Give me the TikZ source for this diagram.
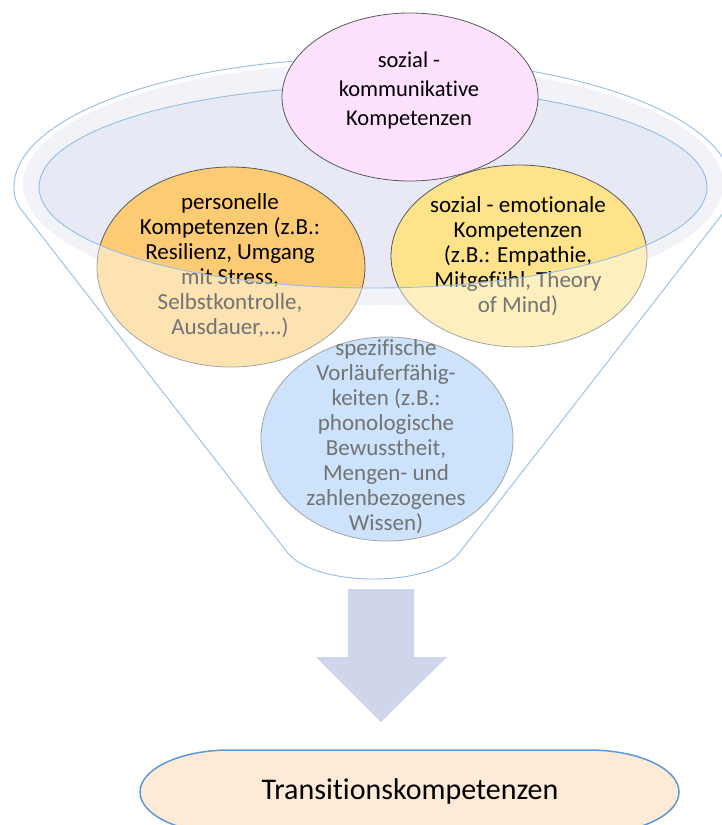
\documentclass[tikz,border=0pt]{standalone}
\usepackage{fontspec}
\setmainfont{Carlito}[Ligatures=CommonOff]
\definecolor{trichterlinie}{HTML}{95BDE4}
\definecolor{rinne}{HTML}{E7EAF5}
\definecolor{kreisrand}{HTML}{5A5A5A}
\definecolor{rosa}{HTML}{FEE1FE}
\definecolor{orange1}{HTML}{FDCB73}
\definecolor{gelb}{HTML}{FEE38B}
\definecolor{blau}{HTML}{A4CDFA}
\definecolor{pfeilfarbe}{HTML}{CFD5EA}
\definecolor{zielrand}{HTML}{5B9BD5}
\definecolor{zielfarbe}{HTML}{FDEBD8}

\begin{document}
\begin{tikzpicture}[x=1pt,y=-1pt]
                \tikzstyle{every node}+=[inner sep=0pt, align=center]
                \tikzstyle{kreis}=[draw=kreisrand, line width=0.8pt]
                \tikzstyle{trichter}=[draw=trichterlinie, line width=0.9pt]
                \tikzstyle{txt}=[font=\fontsize{23}{25}\selectfont]
                \useasboundingbox (0,0) rectangle (721,825);
                \fill [rinne] (373,184) ellipse [x radius=350, y radius=121];
                \draw [kreis, fill=orange1] (231,267) ellipse [x radius=134, y radius=100];
                \draw (230,266) node [txt] (pers) {personelle\\Kompetenzen (z.B.:\\Resilienz, Umgang\\mit Stress,\\Selbstkontrolle,\\Ausdauer,...)};
                \draw [kreis, fill=gelb] (519,256) ellipse [x radius=128, y radius=91];
                \draw (518,256) node [txt] (emo) {sozial - emotionale\\Kompetenzen\\(z.B.: Empathie,\\Mitgefühl, Theory\\of Mind)};
                \draw [kreis, fill=blau] (387,439) ellipse [x radius=126, y radius=102];
                \draw (386,437) node [txt] (vorl) {spezifische\\Vorläuferfähig-\\keiten (z.B.:\\phonologische\\Bewusstheit,\\Mengen- und\\zahlenbezogenes\\Wissen)};
                \fill [white, opacity=0.45, even odd rule] (14,187) arc [start angle=180, end angle=360, x radius=359, y radius=129] .. controls (732,197) and (730,202) .. (727,208) -- (460,552) .. controls (432,588) and (315,588) .. (287,552) -- (20,208) .. controls (16,202) and (14,197) .. (14,187) -- cycle (373,187) ellipse [x radius=334, y radius=101];
                \draw [trichter] (14,187) arc [start angle=180, end angle=360, x radius=359, y radius=129] .. controls (732,197) and (730,202) .. (727,208) -- (460,552) .. controls (432,588) and (315,588) .. (287,552) -- (20,208) .. controls (16,202) and (14,197) .. (14,187) -- cycle;
                \draw [trichter] (373,187) ellipse [x radius=334, y radius=101];
                \draw [kreis, fill=rosa] (410,97) ellipse [x radius=128, y radius=84];
                \draw (409,90) node [font=\fontsize{22.5}{29}\selectfont] (sozkom) {sozial -\\kommunikative\\Kompetenzen};
                \fill [pfeilfarbe] (348,589) -- (414,589) -- (414,657) -- (447,657) -- (381,722) -- (316,657) -- (348,657) -- cycle;
                \draw [draw=zielrand, line width=1.5pt, fill=zielfarbe] (230,750) -- (589,750) arc [start angle=270, end angle=450, x radius=90, y radius=42] -- (230,834) arc [start angle=90, end angle=270, x radius=90, y radius=42] -- cycle;
                \draw (410,791) node [font=\fontsize{30}{36}\selectfont] (ziel) {Transitionskompetenzen};
\end{tikzpicture}
\end{document}
